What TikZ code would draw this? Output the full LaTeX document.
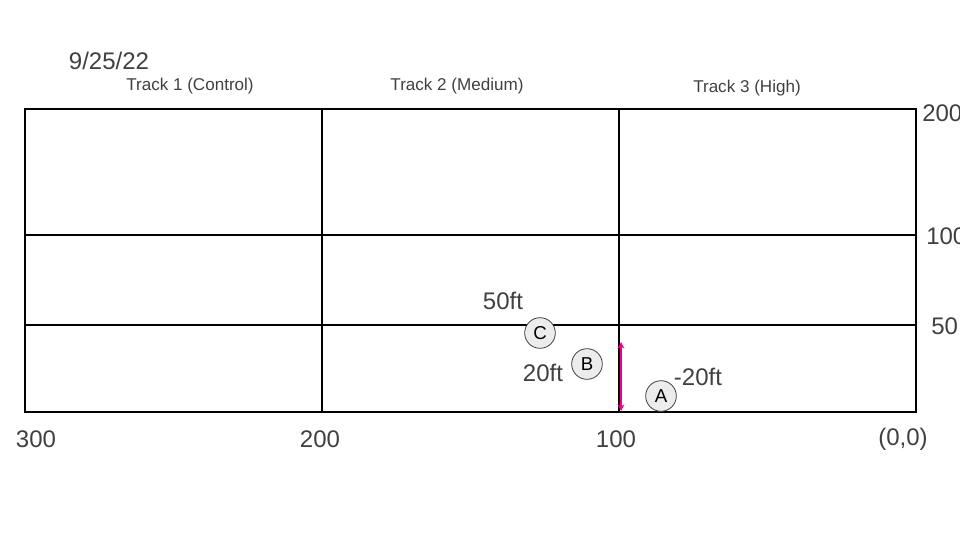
\documentclass[tikz,border=0pt]{standalone}
\usepackage{fontspec}
\setmainfont{Liberation Sans}
\usetikzlibrary{arrows.meta}
\definecolor{txt}{HTML}{404040}
\tikzset{
  grid/.style={line width=1.7pt, black},
  big/.style={text=txt, font=\fontsize{18}{21}\selectfont, inner sep=0pt},
  small/.style={text=txt, font=\fontsize{12.8}{15}\selectfont, inner sep=0pt},
  marker/.style={circle, draw=txt, fill=gray!15, line width=0.6pt, minimum size=23pt, inner sep=0pt, text=black, font=\fontsize{14}{16}\selectfont},
  arr/.style={magenta, line width=1.5pt, {Stealth[length=5pt,width=5pt]}-{Stealth[length=5pt,width=5pt]}}
}
\begin{document}
\begin{tikzpicture}[x=0.75pt,y=-0.75pt]
\useasboundingbox (0,0) rectangle (960,540);
% grid corners
\coordinate (tl) at (25,109);
\coordinate (br) at (916,412);
\draw[grid] (tl) rectangle (br);
\draw[grid] (322,109) -- (322,412);
\draw[grid] (619,109) -- (619,412);
\draw[grid] (25,235) -- (916,235);
\draw[grid] (25,325) -- (916,325);
% titles
\node[big] (date) at (109,61) {9/25/22};
\node[small] (t1) at (190,86) {Track 1 (Control)};
\node[small] (t2) at (457,86) {Track 2 (Medium)};
\node[small] (t3) at (747,88) {Track 3 (High)};
% right axis
\node[big, anchor=west] (r200) at (922,113) {200};
\node[big, anchor=west] (r100) at (926,236) {100};
\node[big, anchor=west] (r50) at (931,326) {50};
% bottom axis
\node[big] (b300) at (36,439) {300};
\node[big] (b200) at (320,439) {200};
\node[big] (b100) at (616,439) {100};
\node[big] (b00) at (903,439) {(0,0)};
% markers
\node[marker] (C) at (540,333) {C};
\node[marker] (B) at (587,364) {B};
\node[marker] (A) at (661,396) {A};
\node[big] (l50) at (503,301) {50ft};
\node[big] (l20) at (543,373) {20ft};
\node[big] (lm20) at (698,377) {-20ft};
% magenta arrow
\coordinate (atop) at (621,342);
\coordinate (abot) at (621,411);
\draw[arr] (atop) -- (abot);
\end{tikzpicture}
\end{document}
